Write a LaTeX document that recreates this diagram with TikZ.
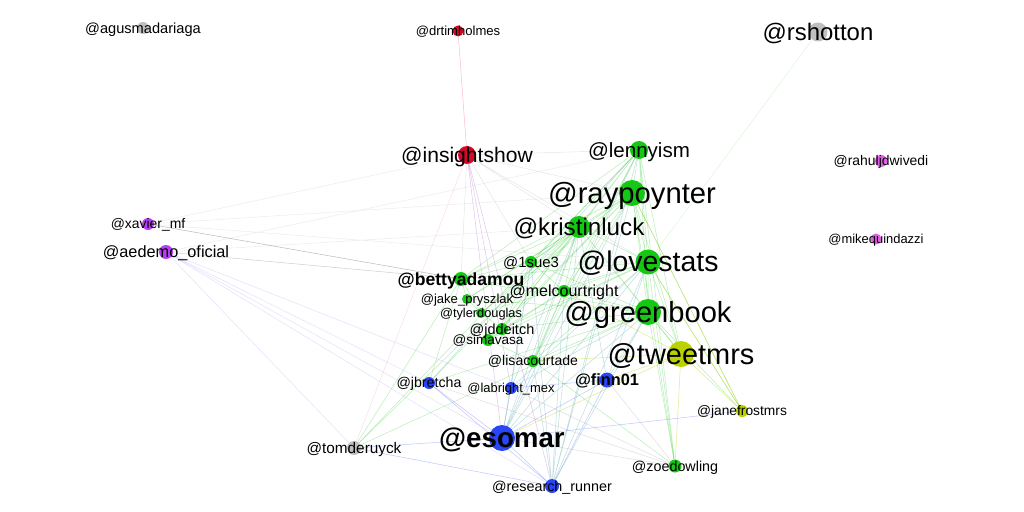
\documentclass[tikz,border=0pt]{standalone}
\usepackage{fontspec}
\setmainfont{Liberation Sans}
\usetikzlibrary{backgrounds}

\definecolor{ngreen}{RGB}{20,200,20}
\definecolor{nred}{RGB}{210,10,40}
\definecolor{nblue}{RGB}{40,70,245}
\definecolor{nlime}{RGB}{185,210,0}
\definecolor{ngray}{RGB}{192,192,192}
\definecolor{npurple}{RGB}{185,60,250}
\definecolor{nmagenta}{RGB}{230,90,235}
\definecolor{nteal}{RGB}{40,140,150}
\definecolor{npink}{RGB}{245,120,150}
\definecolor{nlilac}{RGB}{170,90,200}
\definecolor{nviolet}{RGB}{120,100,250}

\tikzset{
  vert/.style={circle,inner sep=0pt,minimum size=#1*0.05cm},
  lab/.style={font=\fontsize{#1pt}{#1pt}\selectfont,inner sep=0pt,
    text height=0.7*#1pt,text depth=0pt},
  labb/.style={lab=#1,font=\fontsize{#1pt}{#1pt}\selectfont\bfseries},
  edge/.style={line width=0.35pt,draw opacity=0.3},
}

\begin{document}
\begin{tikzpicture}[x=0.025cm,y=-0.025cm]
  \useasboundingbox (0,0) rectangle (1024,512);

  % vertices
  \node[vert=6,fill=ngray] (agus) at (143,28) {};
  \node[vert=5.5,fill=nred] (drtim) at (458,31) {};
  \node[vert=9.5,fill=ngray] (rshotton) at (818,32) {};
  \node[vert=9,fill=nred] (insight) at (467,155) {};
  \node[vert=9,fill=ngreen] (lenny) at (639,150) {};
  \node[vert=6,fill=nmagenta] (rahul) at (881,161) {};
  \node[vert=13,fill=ngreen] (ray) at (632,193) {};
  \node[vert=6,fill=npurple] (xavier) at (148,224) {};
  \node[vert=11,fill=ngreen] (kristin) at (579,227) {};
  \node[vert=5.5,fill=nmagenta] (mike) at (876,239) {};
  \node[vert=7,fill=npurple] (aedemo) at (166,252) {};
  \node[vert=12.5,fill=ngreen] (love) at (648,262) {};
  \node[vert=6,fill=ngreen] (sue) at (531,262) {};
  \node[vert=7,fill=ngreen] (betty) at (461,279) {};
  \node[vert=6,fill=ngreen] (mel) at (564,291) {};
  \node[vert=5,fill=ngreen] (jake) at (467,299) {};
  \node[vert=13,fill=ngreen] (greenbook) at (648,312) {};
  \node[vert=5,fill=ngreen] (tyler) at (481,313) {};
  \node[vert=6,fill=ngreen] (jdd) at (502,329) {};
  \node[vert=6,fill=ngreen] (sima) at (488,340) {};
  \node[vert=6,fill=ngreen] (lisa) at (533,361) {};
  \node[vert=13,fill=nlime] (tweet) at (681,354) {};
  \node[vert=6,fill=nblue] (jbretcha) at (429,383) {};
  \node[vert=6,fill=nblue] (labright) at (511,388) {};
  \node[vert=7.5,fill=nblue] (finn) at (607,380) {};
  \node[vert=6,fill=nlime] (jane) at (742,411) {};
  \node[vert=13,fill=nblue] (esomar) at (502,438) {};
  \node[vert=7,fill=ngray] (tom) at (354,448) {};
  \node[vert=6.5,fill=ngreen] (zoe) at (675,466) {};
  \node[vert=7,fill=nblue] (runner) at (552,486) {};

  % edges
  \begin{pgfonlayer}{background}
    \fill[white] (0,0) rectangle (1024,512);
    \draw[edge,npink,draw opacity=0.5] (drtim) -- (insight);
    \draw[edge,npink,draw opacity=0.25] (insight) -- (tom);
    \draw[edge,nlilac,draw opacity=0.35] (insight) -- (esomar) (insight) -- (runner)
      (insight) -- (labright);
    \draw[edge,gray,draw opacity=0.2] (insight) -- (lenny) (insight) -- (ray)
      (insight) -- (kristin) (insight) -- (sue) (insight) -- (love) (insight) -- (betty);
    \draw[edge,gray,draw opacity=0.55] (xavier) -- (betty);
    \draw[edge,gray,draw opacity=0.4] (aedemo) -- (betty);
    \draw[edge,gray,draw opacity=0.15] (xavier) -- (insight) (xavier) -- (ray)
      (xavier) -- (love) (aedemo) -- (lenny) (aedemo) -- (kristin);
    \draw[edge,nviolet,draw opacity=0.2] (aedemo) -- (esomar) (aedemo) -- (jbretcha)
      (aedemo) -- (labright) (aedemo) -- (runner) (aedemo) -- (tom);
    \draw[edge,nviolet,draw opacity=0.4] (jbretcha) -- (esomar);
    \draw[edge,ngreen,draw opacity=0.15] (rshotton) -- (love);
    % green cluster
    \draw[edge,ngreen] (ray) -- (lenny) (ray) -- (kristin) (ray) -- (love)
      (ray) -- (greenbook) (ray) -- (tweet) (ray) -- (sue) (ray) -- (betty)
      (ray) -- (mel) (ray) -- (jake) (ray) -- (tyler) (ray) -- (jdd)
      (ray) -- (sima) (ray) -- (lisa) (ray) -- (zoe) (ray) -- (jane);
    \draw[edge,ngreen] (lenny) -- (kristin) (lenny) -- (love) (lenny) -- (greenbook)
      (lenny) -- (tweet) (lenny) -- (sue) (lenny) -- (betty) (lenny) -- (mel)
      (lenny) -- (jdd) (lenny) -- (lisa) (lenny) -- (zoe);
    \draw[edge,ngreen] (kristin) -- (love) (kristin) -- (greenbook) (kristin) -- (tweet)
      (kristin) -- (sue) (kristin) -- (betty) (kristin) -- (mel) (kristin) -- (jake)
      (kristin) -- (tyler) (kristin) -- (jdd) (kristin) -- (sima) (kristin) -- (lisa)
      (kristin) -- (jbretcha) (kristin) -- (tom);
    \draw[edge,ngreen] (love) -- (greenbook) (love) -- (tweet) (love) -- (sue)
      (love) -- (betty) (love) -- (mel) (love) -- (tyler) (love) -- (jdd)
      (love) -- (sima) (love) -- (lisa) (love) -- (zoe) (love) -- (jane);
    \draw[edge,ngreen] (greenbook) -- (tweet) (greenbook) -- (sue) (greenbook) -- (betty)
      (greenbook) -- (mel) (greenbook) -- (jake) (greenbook) -- (jdd)
      (greenbook) -- (lisa) (greenbook) -- (zoe) (greenbook) -- (jane)
      (greenbook) -- (jbretcha) (greenbook) -- (tom);
    \draw[edge,ngreen] (betty) -- (sue) (betty) -- (mel) (betty) -- (jake)
      (betty) -- (tyler) (betty) -- (jbretcha) (betty) -- (tom)
      (mel) -- (sue) (mel) -- (lisa) (mel) -- (jdd) (mel) -- (sima)
      (sue) -- (jdd) (jake) -- (tyler) (tyler) -- (jdd) (jdd) -- (sima)
      (sima) -- (lisa) (lisa) -- (zoe) (lenny) -- (tom);
    \draw[edge,nlime,draw opacity=0.45] (tweet) -- (jane) (tweet) -- (zoe) (tweet) -- (finn)
      (tweet) -- (lisa) (tweet) -- (mel) (tweet) -- (esomar) (jane) -- (love)
      (jane) -- (ray);
    % blue ties
    \draw[edge,nblue] (esomar) -- (runner) (esomar) -- (finn) (esomar) -- (labright)
      (esomar) -- (tom) (esomar) -- (jane) (finn) -- (runner)
      (finn) -- (labright) (jbretcha) -- (runner) (runner) -- (tom);
    \draw[edge,nteal] (runner) -- (ray) (runner) -- (lenny) (runner) -- (kristin)
      (runner) -- (love) (runner) -- (greenbook) (runner) -- (sue) (runner) -- (mel)
      (runner) -- (lisa) (esomar) -- (ray) (esomar) -- (kristin) (esomar) -- (love)
      (esomar) -- (greenbook) (esomar) -- (lenny) (esomar) -- (sue) (esomar) -- (mel)
      (labright) -- (kristin) (labright) -- (love) (labright) -- (sue)
      (labright) -- (greenbook) (jbretcha) -- (lenny) (finn) -- (love)
      (finn) -- (greenbook) (finn) -- (kristin);
    \draw[edge,gray,draw opacity=0.25] (zoe) -- (labright) (zoe) -- (jbretcha)
      (zoe) -- (esomar) (zoe) -- (finn);
  \end{pgfonlayer}

  % labels
  \node[lab=10.4] (agus-l) at (agus) {@agusmadariaga};
  \node[lab=9.3] (drtim-l) at (drtim) {@drtimholmes};
  \node[lab=17] (rshotton-l) at (rshotton) {@rshotton};
  \node[lab=15] (insight-l) at (insight) {@insightshow};
  \node[lab=14.6] (lenny-l) at (lenny) {@lennyism};
  \node[lab=9.9] (rahul-l) at (rahul) {@rahuljdwivedi};
  \node[lab=20.8] (ray-l) at (ray) {@raypoynter};
  \node[lab=9.9] (xavier-l) at (xavier) {@xavier\_mf};
  \node[lab=17.2] (kristin-l) at (kristin) {@kristinluck};
  \node[lab=9.2] (mike-l) at (mike) {@mikequindazzi};
  \node[lab=11.6] (aedemo-l) at (aedemo) {@aedemo\_oficial};
  \node[lab=20.2] (love-l) at (love) {@lovestats};
  \node[lab=10.6] (sue-l) at (sue) {@1sue3};
  \node[labb=12.5] (betty-l) at (betty) {@bettyadamou};
  \node[lab=11.4] (mel-l) at (mel) {@melcourtright};
  \node[lab=9.3] (jake-l) at (jake) {@jake\_pryszlak};
  \node[lab=20.7] (greenbook-l) at (greenbook) {@greenbook};
  \node[lab=9.1] (tyler-l) at (tyler) {@tylerdouglas};
  \node[lab=10.3] (jdd-l) at (jdd) {@jddeitch};
  \node[lab=9.6] (sima-l) at (sima) {@simavasa};
  \node[lab=10] (lisa-l) at (lisa) {@lisacourtade};
  \node[lab=20.6] (tweet-l) at (tweet) {@tweetmrs};
  \node[lab=10.1] (jbretcha-l) at (jbretcha) {@jbretcha};
  \node[lab=9.2] (labright-l) at (labright) {@labright\_mex};
  \node[labb=11.6] (finn-l) at (finn) {@finn01};
  \node[lab=9.8] (jane-l) at (jane) {@janefrostmrs};
  \node[labb=19.7] (esomar-l) at (esomar) {@esomar};
  \node[lab=10.9] (tom-l) at (tom) {@tomderuyck};
  \node[lab=10.2] (zoe-l) at (zoe) {@zoedowling};
  \node[lab=10.2] (runner-l) at (runner) {@research\_runner};
\end{tikzpicture}
\end{document}
